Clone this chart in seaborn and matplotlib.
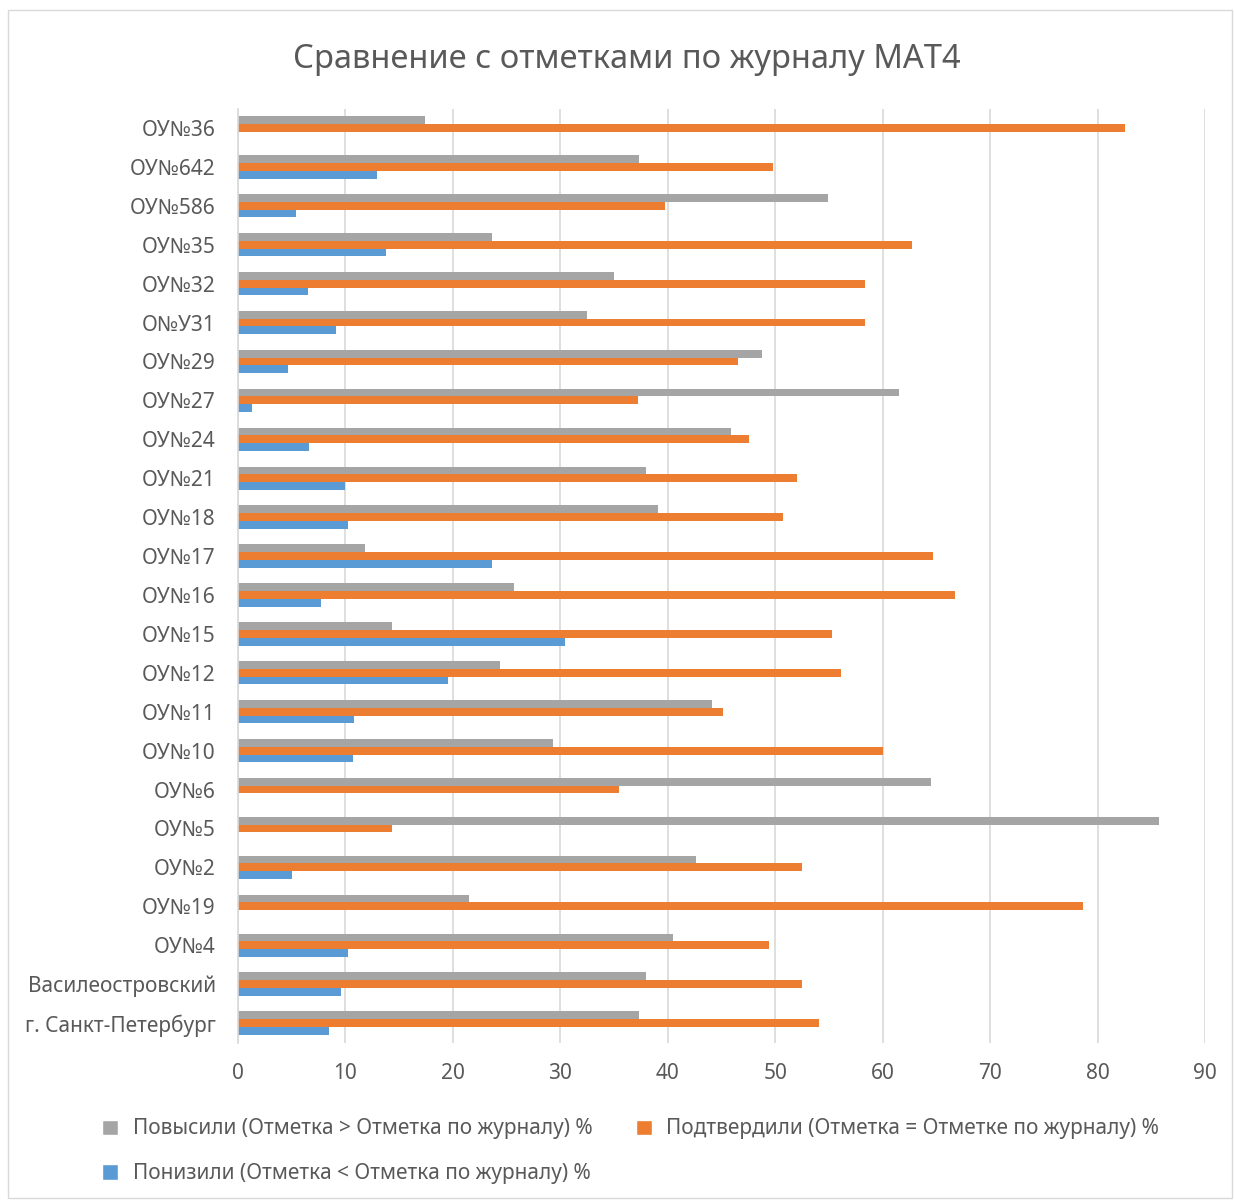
import matplotlib
matplotlib.use("Agg")
import matplotlib.pyplot as plt
import seaborn as sns
import pandas as pd
from matplotlib.patches import Patch, Rectangle

categories = ["ОУ№36", "ОУ№642", "ОУ№586", "ОУ№35", "ОУ№32", "О№У31", "ОУ№29", "ОУ№27",
              "ОУ№24", "ОУ№21", "ОУ№18", "ОУ№17", "ОУ№16", "ОУ№15", "ОУ№12", "ОУ№11",
              "ОУ№10", "ОУ№6", "ОУ№5", "ОУ№2", "ОУ№19", "ОУ№4", "Василеостровский",
              "г. Санкт-Петербург"]
raised = [17.4, 37.3, 54.9, 23.6, 35.0, 32.5, 48.8, 61.5, 45.9, 38.0, 39.1, 11.8,
          25.7, 14.3, 24.4, 44.1, 29.3, 64.5, 85.7, 42.6, 21.5, 40.5, 38.0, 37.3]
confirmed = [82.6, 49.8, 39.7, 62.7, 58.4, 58.4, 46.5, 37.2, 47.6, 52.0, 50.7, 64.7,
             66.7, 55.3, 56.1, 45.1, 60.0, 35.5, 14.3, 52.5, 78.6, 49.4, 52.5, 54.1]
lowered = [0.0, 12.9, 5.4, 13.75, 6.5, 9.1, 4.7, 1.3, 6.6, 10.0, 10.2, 23.6,
           7.7, 30.4, 19.5, 10.8, 10.7, 0.0, 0.0, 5.0, 0.0, 10.2, 9.6, 8.5]
series_names = ["Повысили (Отметка > Отметка по журналу) %",
                "Подтвердили (Отметка = Отметке по журналу) %",
                "Понизили (Отметка < Отметка по журналу) %"]
colors = ["#A5A5A5", "#ED7D31", "#5B9BD5"]
x_ticks = [0, 10, 20, 30, 40, 50, 60, 70, 80, 90]
title = "Сравнение с отметками по журналу МАТ4"

rows = []
for name, vals in zip(series_names, [raised, confirmed, lowered]):
    for c, v in zip(categories, vals):
        rows.append({"cat": c, "series": name, "value": v})
df = pd.DataFrame(rows)

sns.set_theme(style="white")
plt.rcParams["font.family"] = ["Noto Sans", "DejaVu Sans"]
text_color = "#595959"

fig = plt.figure(figsize=(12.34, 12.0), dpi=100)
ax = fig.add_axes([238 / 1234, 1 - 1042.5 / 1200, (1205 - 238) / 1234, (1042.5 - 108.5) / 1200])

sns.barplot(data=df, y="cat", x="value", hue="series", order=categories,
            hue_order=series_names, palette=colors, orient="h", width=0.6,
            linewidth=0, saturation=1, ax=ax, legend=False)

ax.set_xlim(0, 90)
ax.set_ylim(len(categories) - 0.5, -0.5)
ax.set_xticks(x_ticks)
ax.set_xlabel("")
ax.set_ylabel("")
ax.grid(axis="x", color="#D9D9D9", linewidth=1.2)
ax.grid(axis="y", visible=False)
ax.set_axisbelow(True)
for s in ["top", "right", "bottom"]:
    ax.spines[s].set_visible(False)
ax.spines["left"].set_color("#D9D9D9")
ax.spines["left"].set_linewidth(1.2)
ax.tick_params(axis="both", length=0, labelsize=15, labelcolor=text_color)
ax.tick_params(axis="y", pad=16)
ax.tick_params(axis="x", pad=15)

fig.text(627 / 1234, 1 - 59 / 1200, title, ha="center", va="center",
         fontsize=23.5, color=text_color)

handles = [Patch(facecolor=colors[0]), Patch(facecolor=colors[2]), Patch(facecolor=colors[1])]
labels = [series_names[0], series_names[2], series_names[1]]
leg = fig.legend(handles, labels, ncol=2, loc="upper left",
                 bbox_to_anchor=(92 / 1234, 1 - 1108 / 1200), frameon=False,
                 fontsize=15, handlelength=0.75, handleheight=0.75, handletextpad=0.7,
                 columnspacing=2.1, labelspacing=1.15, borderpad=0)
for t in leg.get_texts():
    t.set_color(text_color)

fig.patches.append(Rectangle((8 / 1234, 2 / 1200), 1224 / 1234, 1188 / 1200,
                             transform=fig.transFigure, fill=False,
                             edgecolor="#D9D9D9", linewidth=1))

fig.savefig("out.png", dpi=100, facecolor="white")
